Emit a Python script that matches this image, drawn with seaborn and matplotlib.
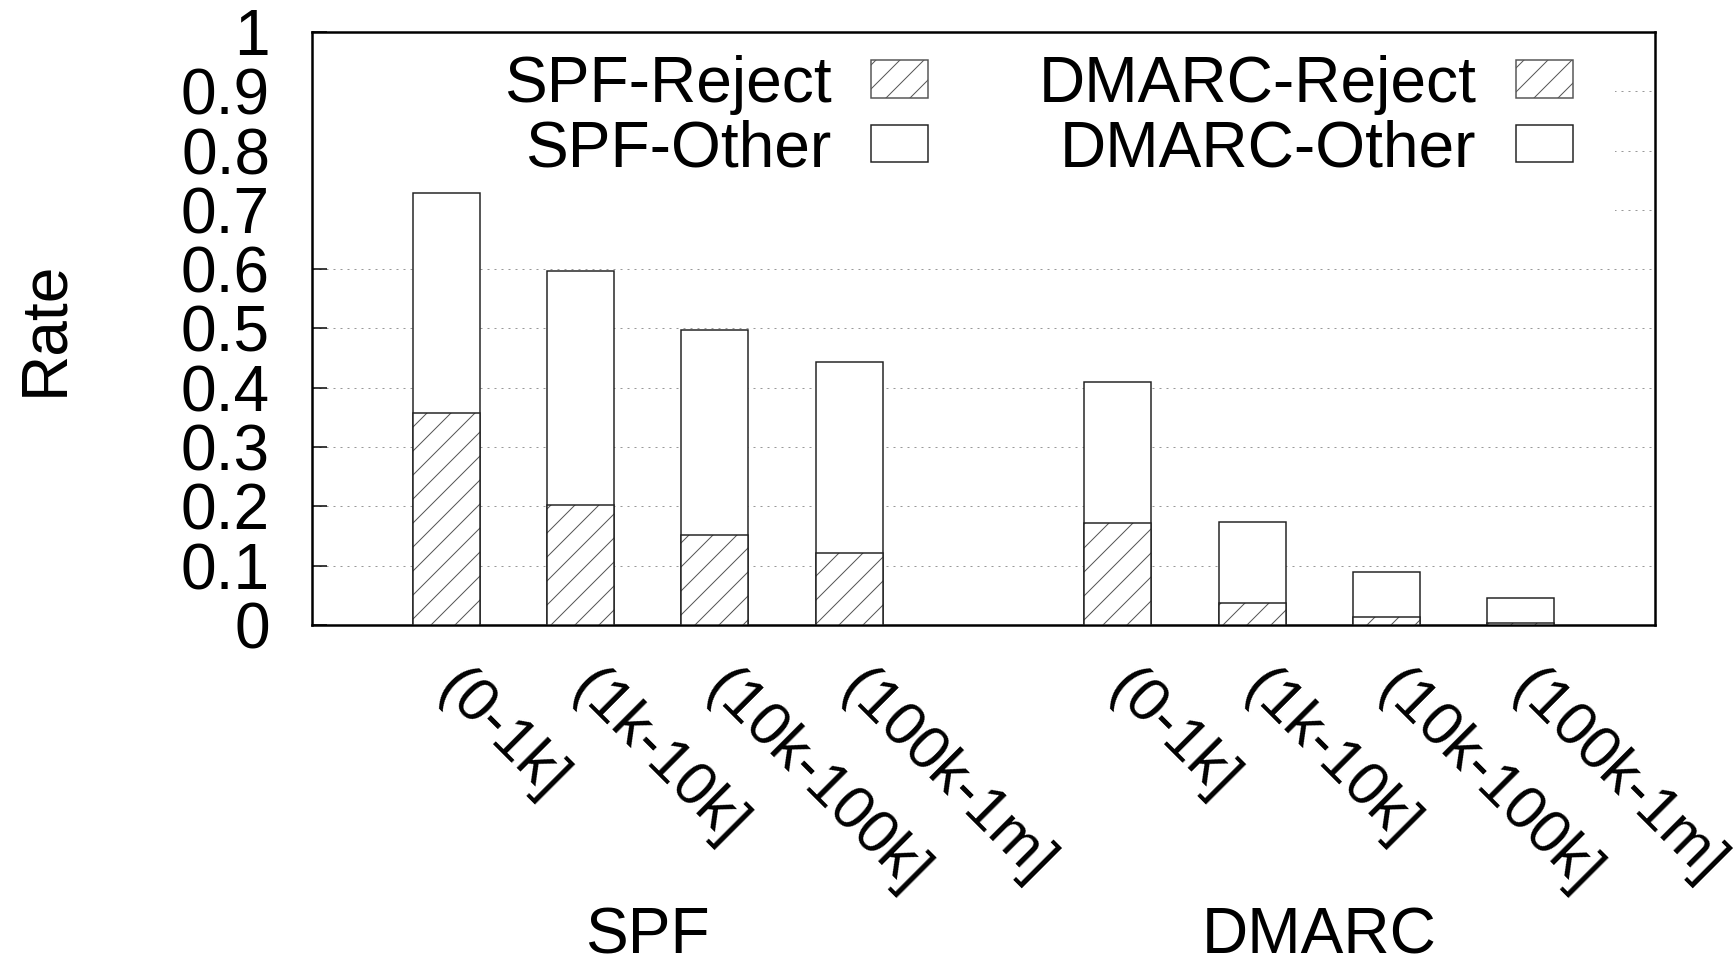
import numpy as np
import pandas as pd
import matplotlib
matplotlib.use("Agg")
import matplotlib.pyplot as plt
import seaborn as sns
from matplotlib.patches import Patch, Rectangle
from matplotlib.transforms import blended_transform_factory

# ---------------- data ----------------
groups = ["SPF", "DMARC"]
bins = ["(0-1k]", "(1k-10k]", "(10k-100k]", "(100k-1m]"]
spf_total = [0.729, 0.597, 0.498, 0.444]
spf_reject = [0.358, 0.203, 0.151, 0.121]
dmarc_total = [0.409, 0.174, 0.090, 0.045]
dmarc_reject = [0.172, 0.037, 0.013, 0.004]
y_ticks = [0.0, 0.1, 0.2, 0.3, 0.4, 0.5, 0.6, 0.7, 0.8, 0.9, 1.0]
y_tick_labels = ["0", "0.1", "0.2", "0.3", "0.4", "0.5", "0.6", "0.7", "0.8", "0.9", "1"]
legend_labels = ["SPF-Reject", "SPF-Other", "DMARC-Reject", "DMARC-Other"]

# bar positions: two groups separated by an empty slot
spf_pos = [0, 1, 2, 3]
dmarc_pos = [5, 6, 7, 8]
positions = spf_pos + dmarc_pos
df = pd.DataFrame({
    "pos": positions,
    "label": bins + bins,
    "total": spf_total + dmarc_total,
    "reject": spf_reject + dmarc_reject,
})

# ---------------- style ----------------
sns.set_theme(style="white")
plt.rcParams["font.family"] = ["Liberation Sans", "DejaVu Sans"]
plt.rcParams["hatch.linewidth"] = 1.0
for k in ["text.color", "axes.labelcolor", "xtick.color", "ytick.color"]:
    plt.rcParams[k] = "black"
FS = 64
EDGE = "#222222"

fig = plt.figure(figsize=(1735 / 72, 967 / 72), dpi=72)
ax = fig.add_axes([312 / 1735, 1 - 625 / 967, (1655 - 312) / 1735, (625 - 32) / 967])

# total (Other on top of Reject) bars
sns.barplot(data=df, x="pos", y="total", native_scale=True, width=0.5,
            color="white", saturation=1, edgecolor=EDGE, linewidth=1.5,
            errorbar=None, ax=ax, zorder=3)
# hatched reject part
sns.barplot(data=df, x="pos", y="reject", native_scale=True, width=0.5,
            color="white", saturation=1, edgecolor="#555555", hatch="/",
            linewidth=0, errorbar=None, ax=ax, zorder=4)
# outline of reject part
sns.barplot(data=df, x="pos", y="reject", native_scale=True, width=0.5,
            color=EDGE, saturation=1, fill=False, linewidth=1.5,
            errorbar=None, ax=ax, zorder=5)

xmin, xmax = min(positions) - 1, max(positions) + 1
ax.set_xlim(xmin, xmax)
ax.set_ylim(y_ticks[0], y_ticks[-1])

# dotted grid
ax.hlines(y_ticks[1:-1], xmin, xmax, colors="#999999", linestyles=(0, (2, 5)),
          linewidth=1.0, zorder=0.5)
# opaque key box (gnuplot style) hiding the grid behind the legend
ax.add_patch(Rectangle((0, 0.665), 0.97, 0.335, transform=ax.transAxes,
                       facecolor="white", edgecolor="none", zorder=1))

# axes frame
for s in ax.spines.values():
    s.set_visible(True)
    s.set_color("black")
    s.set_linewidth(2.5)

ax.set_yticks(y_ticks)
ax.set_yticklabels(y_tick_labels, fontsize=FS)
ax.tick_params(axis="y", direction="in", length=15, width=1.5, pad=42,
               left=True, right=False, colors="black")
ax.set_xticks(positions)
ax.set_xticklabels(bins + bins, fontsize=FS - 3, rotation=-45, ha="left",
                   va="center", rotation_mode="anchor")
ax.tick_params(axis="x", length=0, pad=55, bottom=True, colors="black")
ax.set_xlabel("")
ax.set_ylabel("Rate", fontsize=FS, color="black")
ax.yaxis.set_label_coords(-0.176, 0.5)

# group labels
trans = blended_transform_factory(ax.transData, fig.transFigure)
ax.text(np.mean(spf_pos), 0.0, groups[0], fontsize=FS,
        ha="center", va="bottom", transform=trans, color="black")
ax.text(np.mean(dmarc_pos), 0.0, groups[1], fontsize=FS,
        ha="center", va="bottom", transform=trans, color="black")

# legend
handles = [
    Patch(facecolor="white", edgecolor="#555555", hatch="/", linewidth=1.5),
    Patch(facecolor="white", edgecolor=EDGE, linewidth=1.5),
    Patch(facecolor="white", edgecolor="#555555", hatch="/", linewidth=1.5),
    Patch(facecolor="white", edgecolor=EDGE, linewidth=1.5),
]
leg = ax.legend(handles, legend_labels, ncol=2, markerfirst=False,
                loc="upper right", bbox_to_anchor=(0.939, 0.962),
                frameon=False, fontsize=FS, borderpad=0, borderaxespad=0,
                handlelength=0.89, handleheight=0.52, handletextpad=0.62,
                columnspacing=1.72, labelspacing=0.07)
for t in leg.get_texts():
    t.set_color("black")
leg.set_zorder(6)

fig.savefig("out.png", dpi=72)
